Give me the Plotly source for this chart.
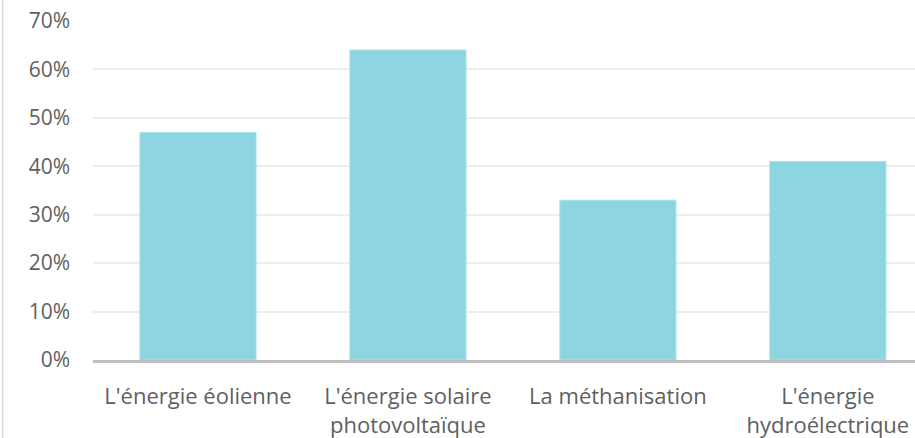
import plotly.graph_objects as go

categories = ["L'énergie éolienne", "L'énergie solaire<br>photovoltaïque", "La méthanisation", "L'énergie<br>hydroélectrique"]
values = [0.47, 0.64, 0.33, 0.41]
y_ticks = [0, 0.1, 0.2, 0.3, 0.4, 0.5, 0.6, 0.7]
y_tick_labels = ["0%", "10%", "20%", "30%", "40%", "50%", "60%", "70%"]

fig = go.Figure(go.Bar(
    x=list(range(len(categories))),
    y=values,
    marker=dict(color="#8DD5E0", line=dict(color="#A9E0E8", width=1)),
    hoverinfo="skip",
))

font_family = "Open Sans, Noto Sans, sans-serif"

fig.update_layout(
    width=915, height=438,
    margin=dict(l=93, r=0, t=21, b=78),
    paper_bgcolor="white", plot_bgcolor="white",
    bargap=0.447,
    showlegend=False,
    font=dict(family=font_family, color="#5F5F5F", size=21),
    xaxis=dict(
        tickmode="array", tickvals=list(range(len(categories))), ticktext=categories,
        range=[-0.5, 3.415], showgrid=False, zeroline=False,
        showline=True, linecolor="#BFBFBF", linewidth=2.5,
        ticks="", tickfont=dict(size=22, color="#5F5F5F"),
        ticklabelstandoff=15, automargin=False,
    ),
    yaxis=dict(
        tickmode="array", tickvals=y_ticks, ticktext=y_tick_labels,
        range=[0, 0.7], showgrid=True, gridcolor="#EDEDED", gridwidth=1.5,
        zeroline=False, showline=False, ticks="",
        tickfont=dict(size=21, color="#5F5F5F"),
        ticklabelstandoff=22, automargin=False,
    ),
    shapes=[dict(type="line", xref="paper", yref="paper",
                 x0=-0.110, x1=-0.110, y0=-0.3, y1=1.1,
                 line=dict(color="#D9D9D9", width=1.5))],
)

fig.write_html(
    "out.html",
    config={"displayModeBar": False},
    post_script="document.body.style.margin='0';document.body.style.overflow='hidden';",
)
